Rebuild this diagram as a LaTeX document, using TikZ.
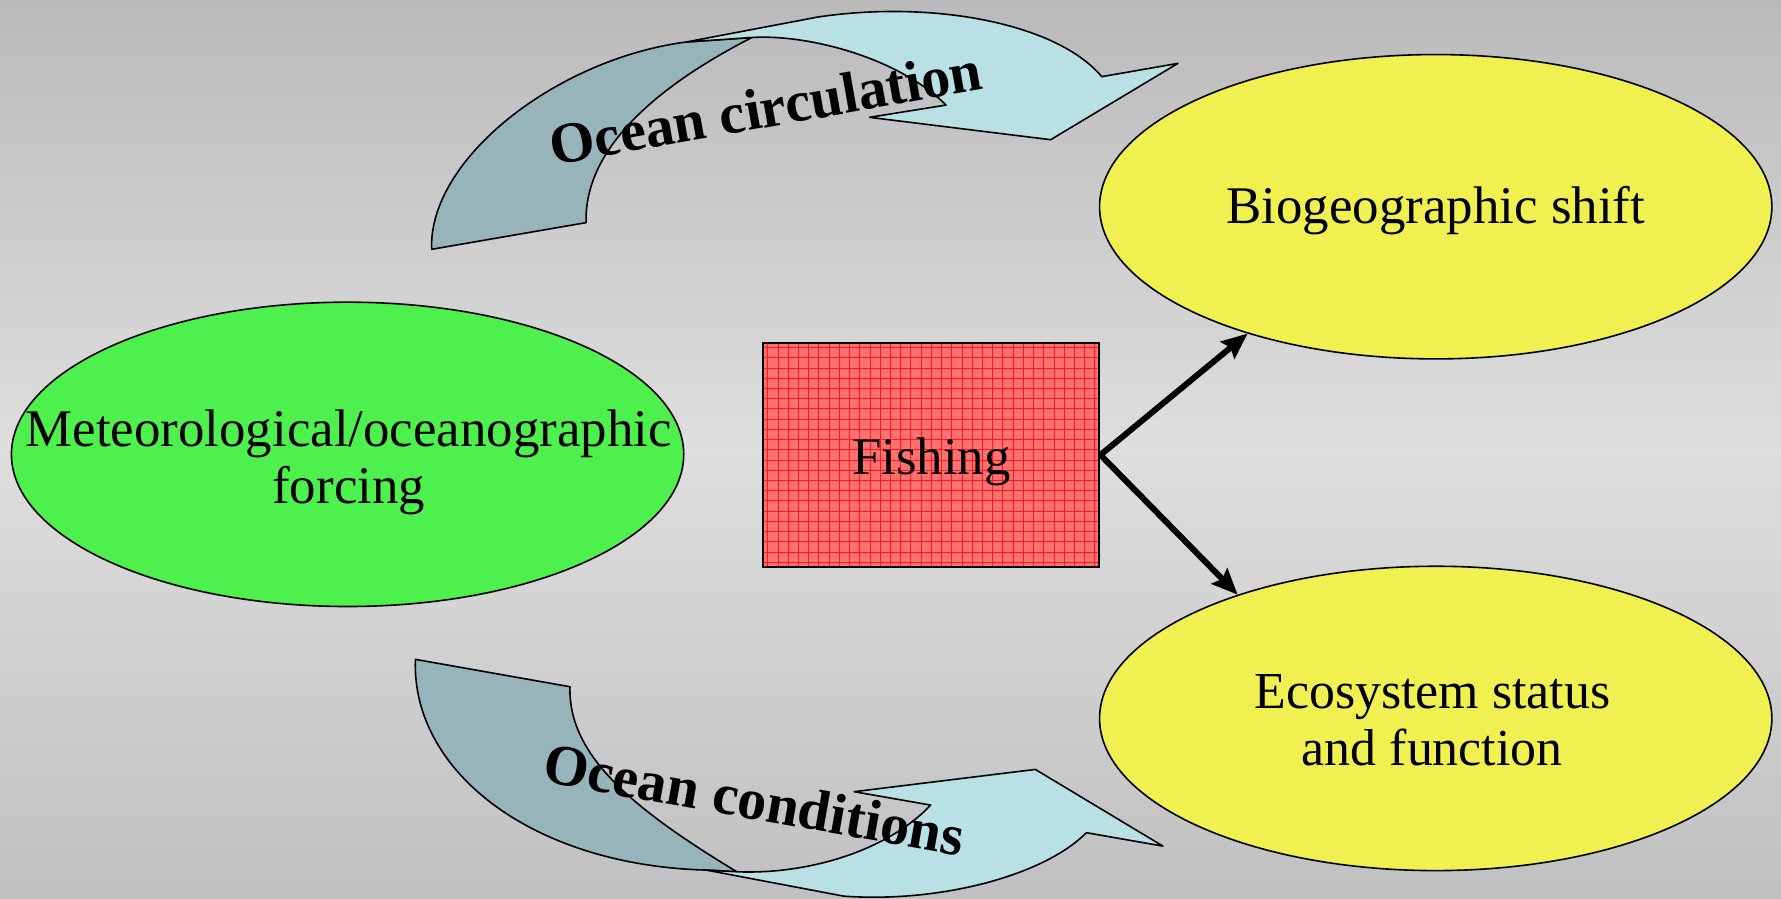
\documentclass[tikz,border=0pt]{standalone}
\usepackage{fontspec}
\setmainfont{Liberation Serif}
\usetikzlibrary{shapes.geometric,arrows.meta}
\definecolor{bgtop}{RGB}{186,186,186}
\definecolor{bgmid}{RGB}{222,222,222}
\definecolor{bgbot}{RGB}{192,192,192}
\definecolor{ribdark}{RGB}{150,180,185}
\definecolor{riblight}{RGB}{184,224,229}
\definecolor{greenfill}{RGB}{78,240,78}
\definecolor{yellowfill}{RGB}{240,240,80}
\definecolor{redfill}{RGB}{255,112,112}
\definecolor{gridred}{RGB}{255,25,25}
\begin{document}
\begin{tikzpicture}[x=0.02cm,y=-0.02cm,
  ribbon/.style={draw=black, line width=0.8pt, line join=round},
  oval/.style={ellipse, draw=black, line width=0.8pt, inner sep=0pt, minimum width=11.84cm, minimum height=5.36cm},
  bodytext/.style={font=\fontsize{26.5}{28.5}\selectfont, align=center, inner sep=0pt},
  flowlabel/.style={font=\bfseries\fontsize{29}{32}\selectfont, inner sep=0pt, anchor=base},
  fisharrow/.style={line width=3pt, -{Stealth[length=13pt,width=11pt,inset=2pt]}}
]
\useasboundingbox (0,0) rectangle (1568,791);
\shade[top color=bgtop, bottom color=bgbot, middle color=bgmid] (0,0) rectangle (1568,791);

% top curved arrow (Ocean circulation)
\filldraw[ribbon, fill=ribdark] (380,219.5) .. controls (377,140) and (490,52) .. (604,37)
  -- (662,33) .. controls (580,75) and (514,130) .. (516,196) -- cycle;
\filldraw[ribbon, fill=riblight] (604,37) -- (720,15) .. controls (820,0) and (930,20) .. (970,67.5)
  -- (1037,55.8) -- (925,123) -- (765.5,103.3) -- (832.9,92.5)
  .. controls (790,50) and (710,30) .. (662,33) -- cycle;

% bottom curved arrow (Ocean conditions)
\filldraw[ribbon, fill=ribdark] (365.7,580.5) .. controls (362,680) and (470,762) .. (621.7,766)
  -- (648.7,767.5) .. controls (557,712) and (500,665) .. (501.8,604.6) -- cycle;
\filldraw[ribbon, fill=riblight] (621.7,766) -- (743,789) .. controls (830,795) and (920,770) .. (956.4,733.1)
  -- (1023.8,744.9) -- (911.5,677.4) -- (752,697) -- (819.4,708.8)
  .. controls (780,750) and (710,770) .. (648.7,767.5) -- cycle;

% ellipses
\node[oval, fill=greenfill] (met) at (306,400) {};
\node[oval, fill=yellowfill] (bio) at (1264,182) {};
\node[oval, fill=yellowfill] (eco) at (1264,632.5) {};

% fishing box
\node[draw=black, line width=1pt, fill=redfill, minimum width=5.92cm, minimum height=3.94cm, inner sep=0pt,
  path picture={
    \foreach \i in {0,...,33} {
      \draw[gridred, line width=0.5pt] ([xshift=\i*0.18cm+0.08cm]path picture bounding box.north west) -- ([xshift=\i*0.18cm+0.08cm]path picture bounding box.south west);
    }
    \foreach \j in {0,...,22} {
      \draw[gridred, line width=0.5pt] ([yshift=-\j*0.18cm-0.08cm]path picture bounding box.north west) -- ([yshift=-\j*0.18cm-0.08cm]path picture bounding box.north east);
    }
  }] (fish) at (820,400.5) {};

% connectors
\draw[fisharrow] (fish.east) -- (bio.214);
\draw[fisharrow] (fish.east) -- (eco.148);

% texts
\node[bodytext] (mettext) at (307,407) {Meteorological/oceanographic\\forcing};
\node[bodytext, anchor=base] (biotext) at (1264,197) {Biogeographic shift};
\node[bodytext, font=\fontsize{26}{28.5}\selectfont] (ecotext) at (1261,634) {Ecosystem status\\and function};
\node[bodytext, anchor=base] (fishtext) at (820,418) {Fishing};
\node[flowlabel, rotate=10] (circ) at (677,112) {Ocean circulation};
\node[flowlabel, rotate=-10] (cond) at (661,721) {Ocean conditions};
\end{tikzpicture}
\end{document}
